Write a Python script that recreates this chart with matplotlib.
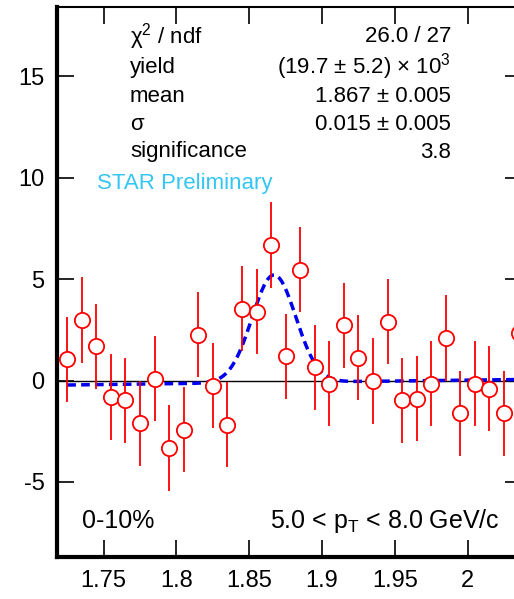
import numpy as np
import matplotlib
matplotlib.use("Agg")
import matplotlib.pyplot as plt

plt.rcParams['font.family'] = ['Liberation Sans', 'DejaVu Sans']
plt.rcParams['axes.unicode_minus'] = False
plt.rcParams['mathtext.fontset'] = 'custom'
plt.rcParams['mathtext.rm'] = 'Liberation Sans'
plt.rcParams['mathtext.it'] = 'Liberation Sans:italic'

mass = [1.725 + 0.01 * i for i in range(32)]
counts = [1.05, 2.98, 1.68, -0.81, -0.97, -2.10, 0.10, -3.32, -2.43, 2.25, -0.26, -2.18,
          3.54, 3.40, 6.68, 1.20, 5.47, 0.65, -0.16, 2.73, 1.13, -0.02, 2.90, -0.97,
          -0.89, -0.16, 2.10, -1.62, -0.16, -0.40, -1.62, 2.35]
errors = [2.1] * 32
fit_mean, fit_sigma, fit_amp = 1.867, 0.015, 5.3
bg_left, bg_right = -0.22, 0.05

fig = plt.figure(figsize=(5.14, 5.99), dpi=100)
ax = fig.add_axes([0.111, 0.070, 0.905, 0.918])

ax.axhline(0, color='black', lw=1.0, zorder=1)
ax.errorbar(mass, counts, yerr=errors, fmt='o', color='red', mfc='white', mec='red',
            ms=11, mew=1.3, elinewidth=1.3, capsize=0, zorder=3)
xf = np.linspace(1.725, 2.035, 400)
bg = bg_left + (bg_right - bg_left) * (xf - 1.725) / (2.035 - 1.725)
yf = bg + fit_amp * np.exp(-0.5 * ((xf - fit_mean) / fit_sigma) ** 2)
ax.plot(xf, yf, color='#0000ee', lw=2.5, ls=(0, (2.5, 1.5)), zorder=2)

ax.set_xlim(1.718, 2.0375)
ax.set_ylim(-8.7, 18.4)
ax.set_xticks([1.75, 1.8, 1.85, 1.9, 1.95, 2.0])
ax.set_xticklabels(['1.75', '1.8', '1.85', '1.9', '1.95', '2'])
ax.set_yticks([-5, 0, 5, 10, 15])
ax.tick_params(direction='in', length=12, width=1.2, labelsize=17, top=True, right=True,
               pad=9)
for s in ['left', 'bottom']:
    ax.spines[s].set_linewidth(3)
ax.spines['top'].set_linewidth(1.5)
ax.spines['right'].set_visible(False)

labels = [r'χ$^2$ / ndf', 'yield', 'mean', 'σ', 'significance']
values = ['26.0 / 27', '(19.7 ± 5.2) × 10$^3$', '1.867 ± 0.005',
          '0.015 ± 0.005', '3.8']
ys = [37, 67, 96, 124, 152]
for lab, val, y in zip(labels, values, ys):
    fy = 1 - y / 599
    fig.text(130 / 514, fy, lab, fontsize=16, va='center', ha='left')
    fig.text(451 / 514, fy, val, fontsize=16, va='center', ha='right')
fig.text(97 / 514, 1 - 184 / 599, 'STAR Preliminary', fontsize=16, color='#33c6f4',
         va='center', ha='left')
fig.text(82 / 514, 1 - 521 / 599, '0-10%', fontsize=18, va='center', ha='left')
fig.text(500 / 514, 1 - 521 / 599, r'5.0 < p$_{\rm T}$ < 8.0 GeV/c', fontsize=18,
         va='center', ha='right')

fig.savefig('out.png', dpi=100)
